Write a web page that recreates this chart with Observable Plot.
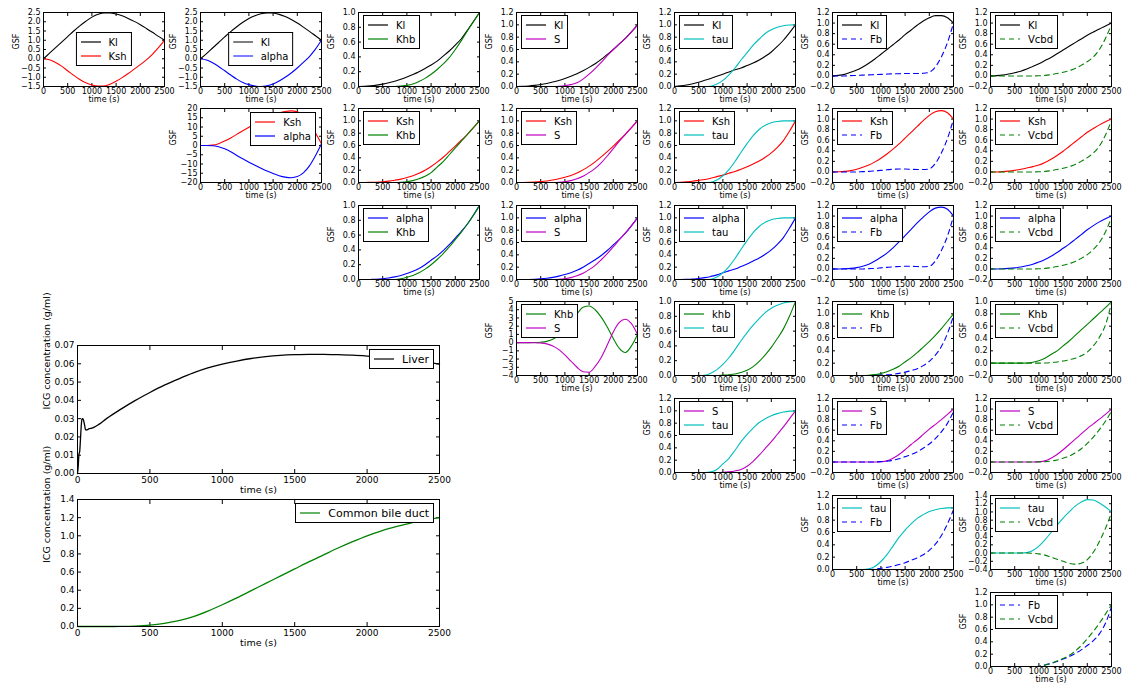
<!DOCTYPE html>
<html><head><meta charset="utf-8">
<script src="https://cdn.jsdelivr.net/npm/d3@7"></script>
<script src="https://cdn.jsdelivr.net/npm/@observablehq/plot@0.6"></script>
<style>
html,body{margin:0;padding:0;background:#fff;}
#root{position:relative;width:1123px;height:686px;overflow:hidden;font-family:"DejaVu Sans",sans-serif;background:#fff;}
.leg{position:absolute;background:#fff;border:1px solid #000;padding:2px 4px 2px 4px;color:#000;white-space:nowrap;font-family:"DejaVu Sans",sans-serif;}
.leg .r{display:flex;align-items:center;height:14px;}
.leg .r svg{margin-right:8px;flex:none;}
</style></head><body><div id="root"></div>
<script>
// ---------------- data ----------------
const T = [0,125,250,375,500,625,750,875,1000,1125,1250,1375,1500,1625,1750,1875,2000,2125,2250,2375,2500];
const X_TICKS = [0,500,1000,1500,2000,2500];

// row 0 (Kl)
const g_Kl_Ksh__Kl = [0,0.3,0.6,0.9,1.2,1.5,1.78,2.03,2.25,2.4,2.48,2.48,2.42,2.32,2.18,2.02,1.84,1.64,1.43,1.21,1.0];
const g_Kl_Ksh__Ksh = [0,-0.05,-0.2,-0.4,-0.65,-0.9,-1.12,-1.3,-1.42,-1.48,-1.47,-1.38,-1.22,-1.02,-0.8,-0.56,-0.32,-0.06,0.24,0.6,1.0];
const g_Kl_alpha__Kl = [0,0.28,0.58,0.88,1.18,1.47,1.73,1.97,2.17,2.32,2.43,2.48,2.47,2.4,2.28,2.12,1.93,1.71,1.48,1.24,1.0];
const g_Kl_alpha__alpha = [0,-0.07,-0.22,-0.42,-0.65,-0.88,-1.1,-1.28,-1.4,-1.47,-1.5,-1.46,-1.36,-1.2,-1.0,-0.77,-0.5,-0.2,0.12,0.52,1.0];
const g_Kl_Khb__Kl = [0,0.002,0.008,0.018,0.032,0.05,0.072,0.098,0.128,0.162,0.2,0.243,0.29,0.343,0.41,0.48,0.56,0.645,0.76,0.878,1.0];
const g_Kl_Khb__Khb = [0,0,0,0,0,0,0,0.005,0.015,0.035,0.068,0.11,0.165,0.23,0.305,0.39,0.5,0.62,0.75,0.875,1.0];
const g_Kl_S__Kl = [0,0.002,0.008,0.018,0.032,0.05,0.072,0.098,0.13,0.165,0.205,0.255,0.31,0.37,0.44,0.52,0.6,0.69,0.78,0.885,1.0];
const g_Kl_S__S = [0,0,0,0,0,0,0,0.003,0.012,0.03,0.06,0.12,0.2,0.29,0.39,0.5,0.6,0.69,0.78,0.885,1.0];
const g_Kl_tau__Kl = [0,0.01,0.025,0.045,0.07,0.1,0.13,0.165,0.2,0.235,0.27,0.3,0.34,0.38,0.43,0.49,0.56,0.65,0.75,0.87,1.0];
const g_Kl_tau__tau = [0,0,0,0,0,0,0.005,0.04,0.1,0.19,0.3,0.43,0.55,0.67,0.77,0.86,0.92,0.96,0.985,0.997,1.0];
const g_Kl_Fb__Kl = [0,0.01,0.03,0.07,0.11,0.17,0.24,0.32,0.41,0.5,0.59,0.68,0.78,0.87,0.96,1.04,1.1,1.14,1.14,1.1,1.0];
const g_Kl_Fb__Fb = [0,0,0,0.005,0.01,0.015,0.02,0.025,0.03,0.035,0.04,0.042,0.045,0.045,0.045,0.05,0.07,0.17,0.36,0.63,1.0];
const g_Kl_Vcbd__Kl = [0,0.005,0.015,0.035,0.06,0.09,0.13,0.18,0.23,0.29,0.35,0.42,0.49,0.56,0.63,0.7,0.77,0.83,0.89,0.945,1.0];
const g_Kl_Vcbd__Vcbd = [0,0,0,0,0,0,0,0,0.003,0.01,0.025,0.045,0.07,0.1,0.14,0.2,0.27,0.36,0.5,0.71,0.97];
// row 1 (Ksh)
const g_Ksh_alpha__Ksh = [0,0,0.2,1.0,2.4,4.1,6.0,8.0,9.9,11.7,13.4,15.0,16.4,17.6,18.4,18.7,18.2,16.4,12.6,6.8,1.0];
const g_Ksh_alpha__alpha = [0,0,-0.1,-0.7,-1.8,-3.4,-5.4,-7.2,-9.0,-10.7,-12.3,-13.8,-15.1,-16.3,-17.1,-17.4,-16.8,-14.8,-11.0,-5.5,1.0];
const g_Ksh_Khb__Ksh = [0,0,0.002,0.005,0.012,0.022,0.037,0.055,0.08,0.11,0.15,0.2,0.26,0.33,0.41,0.5,0.59,0.685,0.78,0.89,1.0];
const g_Ksh_Khb__Khb = [0,0,0,0,0,0,0,0.003,0.012,0.03,0.06,0.1,0.16,0.25,0.34,0.45,0.56,0.67,0.78,0.89,1.0];
const g_Ksh_S__Ksh = [0,0,0.002,0.006,0.014,0.025,0.04,0.06,0.085,0.115,0.155,0.205,0.265,0.335,0.415,0.5,0.59,0.685,0.785,0.89,1.0];
const g_Ksh_S__S = [0,0,0,0,0,0,0,0.003,0.012,0.03,0.06,0.1,0.16,0.23,0.32,0.43,0.55,0.67,0.78,0.89,1.0];
const g_Ksh_tau__Ksh = [0,0.003,0.01,0.02,0.035,0.05,0.07,0.095,0.12,0.15,0.18,0.215,0.255,0.3,0.35,0.41,0.48,0.57,0.68,0.83,1.0];
const g_Ksh_tau__tau = [0,0,0,0,0,0,0.005,0.04,0.11,0.21,0.34,0.49,0.63,0.76,0.86,0.93,0.97,0.99,1.0,1.0,1.0];
const g_Ksh_Fb__Ksh = [0,0.003,0.01,0.025,0.05,0.09,0.13,0.19,0.26,0.34,0.43,0.53,0.64,0.75,0.86,0.97,1.07,1.14,1.16,1.12,1.0];
const g_Ksh_Fb__Fb = [0,0,0,0,0,0.005,0.01,0.02,0.03,0.04,0.05,0.055,0.055,0.05,0.045,0.045,0.06,0.16,0.36,0.63,1.0];
const g_Ksh_Vcbd__Ksh = [0,0,0.005,0.015,0.03,0.05,0.075,0.1,0.13,0.18,0.24,0.31,0.39,0.48,0.57,0.66,0.75,0.82,0.89,0.95,1.0];
const g_Ksh_Vcbd__Vcbd = [0,0,0,0,0,0,0,0,0.003,0.01,0.025,0.045,0.07,0.1,0.14,0.2,0.27,0.36,0.49,0.7,0.97];
// row 2 (alpha)
const g_alpha_Khb__alpha = [0,0,0.001,0.003,0.01,0.02,0.035,0.055,0.08,0.11,0.15,0.2,0.26,0.32,0.39,0.47,0.56,0.65,0.75,0.87,1.0];
const g_alpha_Khb__Khb = [0,0,0,0,0,0,0,0.01,0.03,0.055,0.09,0.14,0.2,0.27,0.35,0.44,0.54,0.64,0.75,0.87,1.0];
const g_alpha_S__alpha = [0,0,0.001,0.004,0.01,0.02,0.035,0.055,0.08,0.11,0.15,0.2,0.26,0.32,0.39,0.47,0.56,0.65,0.75,0.87,1.0];
const g_alpha_S__S = [0,0,0,0,0,0,0,0.003,0.012,0.03,0.06,0.1,0.16,0.23,0.32,0.42,0.53,0.645,0.755,0.875,1.0];
const g_alpha_tau__alpha = [0,0,0.003,0.008,0.015,0.03,0.05,0.075,0.11,0.14,0.17,0.21,0.25,0.3,0.35,0.41,0.48,0.57,0.68,0.83,1.0];
const g_alpha_tau__tau = [0,0,0,0,0,0,0.005,0.04,0.11,0.21,0.34,0.49,0.63,0.76,0.86,0.93,0.97,0.99,1.0,1.0,1.0];
const g_alpha_Fb__alpha = [0,0,0.003,0.01,0.025,0.05,0.09,0.15,0.22,0.3,0.4,0.51,0.63,0.75,0.87,0.98,1.08,1.15,1.17,1.13,1.0];
const g_alpha_Fb__Fb = [0,0,0,0,0,0,0.005,0.01,0.02,0.03,0.04,0.045,0.05,0.05,0.045,0.04,0.05,0.15,0.35,0.62,1.0];
const g_alpha_Vcbd__alpha = [0,0,0.003,0.01,0.02,0.035,0.06,0.09,0.13,0.18,0.24,0.31,0.39,0.47,0.56,0.65,0.74,0.82,0.89,0.95,1.0];
const g_alpha_Vcbd__Vcbd = [0,0,0,0,0,0,0,0,0.003,0.01,0.025,0.045,0.07,0.1,0.14,0.2,0.27,0.37,0.5,0.7,0.97];
// row 3 (Khb)
const g_Khb_S__Khb = [0,0,0,0.01,0.05,0.15,0.4,0.9,1.7,2.6,3.5,4.3,4.45,4.0,3.1,1.9,0.5,-0.7,-1.2,-0.4,1.0];
const g_Khb_S__S = [0,0,0,-0.01,-0.05,-0.15,-0.4,-0.85,-1.5,-2.25,-3.0,-3.55,-3.6,-2.9,-1.8,-0.3,1.3,2.45,2.85,2.3,1.0];
const g_Khb_tau__Khb = [0,0,0,0,0,0,0,0,0.005,0.01,0.02,0.04,0.07,0.12,0.19,0.28,0.38,0.5,0.63,0.8,1.0];
const g_Khb_tau__tau = [0,0,0,0,0,0.003,0.03,0.08,0.15,0.24,0.35,0.47,0.58,0.68,0.77,0.85,0.91,0.95,0.98,0.995,1.0];
const g_Khb_Fb__Khb = [0,0,0,0,0,0,0.005,0.015,0.03,0.06,0.1,0.15,0.22,0.29,0.37,0.46,0.55,0.65,0.76,0.88,1.0];
const g_Khb_Fb__Fb = [0,0,0,0,0,0,0,0,0.005,0.01,0.02,0.035,0.055,0.08,0.11,0.16,0.23,0.33,0.47,0.68,0.97];
const g_Khb_Vcbd__Khb = [0,0,0,0,0,0,0.003,0.015,0.04,0.08,0.14,0.2,0.28,0.36,0.45,0.54,0.63,0.72,0.81,0.9,1.0];
const g_Khb_Vcbd__Vcbd = [0,0,0,0,0,0,0,0,0,0.003,0.01,0.02,0.035,0.055,0.08,0.12,0.18,0.28,0.42,0.62,0.98];
// row 4 (S)
const g_S_tau__S = [0,0,0,0,0,0,0,0,0.003,0.01,0.025,0.05,0.1,0.18,0.28,0.39,0.5,0.62,0.74,0.87,1.0];
const g_S_tau__tau = [0,0,0,0,0,0,0.01,0.05,0.14,0.23,0.36,0.5,0.62,0.72,0.81,0.87,0.92,0.955,0.98,0.995,1.0];
const g_S_Fb__S = [0,0,0,0,0,0,0,0,0.005,0.02,0.07,0.14,0.23,0.33,0.42,0.52,0.62,0.71,0.8,0.9,1.0];
const g_S_Fb__Fb = [0,0,0,0,0,0,0,0,0.005,0.015,0.03,0.06,0.1,0.14,0.19,0.26,0.34,0.44,0.57,0.73,0.95];
const g_S_Vcbd__S = [0,0,0,0,0,0,0,0,0.005,0.02,0.07,0.14,0.23,0.33,0.43,0.53,0.63,0.72,0.81,0.9,1.0];
const g_S_Vcbd__Vcbd = [0,0,0,0,0,0,0,0,0,0.005,0.015,0.035,0.07,0.11,0.17,0.25,0.35,0.47,0.61,0.77,0.96];
// row 5 (tau)
const g_tau_Fb__tau = [0,0,0,0,0,0,0.01,0.05,0.13,0.24,0.38,0.52,0.64,0.74,0.83,0.89,0.94,0.97,0.99,1.0,1.0];
const g_tau_Fb__Fb = [0,0,0,0,0,0,0,0.005,0.02,0.035,0.055,0.08,0.11,0.15,0.19,0.24,0.31,0.41,0.55,0.74,0.97];
const g_tau_Vcbd__tau = [0,0,0,0,0,0,0.01,0.06,0.17,0.32,0.5,0.68,0.85,1.0,1.14,1.24,1.3,1.29,1.22,1.12,1.0];
const g_tau_Vcbd__Vcbd = [0,0,0,0,0,0,0,-0.005,-0.02,-0.05,-0.1,-0.15,-0.2,-0.25,-0.27,-0.25,-0.16,0.02,0.28,0.6,0.98];
// row 6 (Fb)
const g_Fb_Vcbd__Fb = [0,0,0,0,0,0,0,0,0.005,0.025,0.05,0.08,0.12,0.16,0.21,0.27,0.34,0.42,0.53,0.7,0.97];
const g_Fb_Vcbd__Vcbd = [0,0,0,0,0,0,0,0,0.005,0.025,0.05,0.09,0.13,0.18,0.25,0.34,0.45,0.57,0.7,0.85,1.0];

// ICG concentration curves
const liverT = [0,5,10,15,20,25,30,35,40,45,50,55,60,70,80,100,150,200,300,400,500,600,700,800,900,1000,1100,1200,1300,1400,1500,1600,1700,1800,1900,2000,2100,2200,2300,2400,2500];
const liverC = [0,0.004,0.0105,0.012,0.018,0.025,0.0295,0.030,0.0295,0.028,0.026,0.024,0.0238,0.024,0.0245,0.0248,0.027,0.030,0.0352,0.040,0.0443,0.0483,0.0518,0.055,0.0577,0.0598,0.0615,0.0629,0.0639,0.0646,0.065,0.0652,0.0652,0.065,0.0647,0.0642,0.0636,0.0628,0.062,0.061,0.0598];
const bileT = [0,100,200,300,400,500,600,700,800,900,1000,1100,1200,1300,1400,1500,1600,1700,1800,1900,2000,2100,2200,2300,2400,2500];
const bileC = [0,0,0,0.001,0.005,0.015,0.035,0.065,0.11,0.17,0.24,0.315,0.395,0.475,0.555,0.635,0.715,0.79,0.865,0.935,1.0,1.055,1.1,1.14,1.175,1.2];

// y-axis tick sets
const ticksA = [-1.5,-1,-0.5,0,0.5,1,1.5,2,2.5];
const ticks10 = [0,0.2,0.4,0.6,0.8,1.0];
const ticks12 = [0,0.2,0.4,0.6,0.8,1.0,1.2];
const ticksN12 = [-0.2,0,0.2,0.4,0.6,0.8,1.0,1.2];
const ticksN10 = [-0.2,0,0.2,0.4,0.6,0.8,1.0];
const ticksN14 = [-0.4,-0.2,0,0.2,0.4,0.6,0.8,1.0,1.2,1.4];
const ticks20 = [-20,-15,-10,-5,0,5,10,15,20];
const ticks45 = [-4,-3,-2,-1,0,1,2,3,4,5];
const ticksLiver = [0,0.01,0.02,0.03,0.04,0.05,0.06,0.07];
const ticksBile = [0,0.2,0.4,0.6,0.8,1.0,1.2,1.4];

const YC = {
  A:   {domain:[-1.5,2.5], ticks:ticksA, fmt:d3.format(".1f")},
  U10: {domain:[0,1.0], ticks:ticks10, fmt:d3.format(".1f")},
  U12: {domain:[0,1.2], ticks:ticks12, fmt:d3.format(".1f")},
  N12: {domain:[-0.2,1.2], ticks:ticksN12, fmt:d3.format(".1f")},
  N10: {domain:[-0.2,1.0], ticks:ticksN10, fmt:d3.format(".1f")},
  N14: {domain:[-0.4,1.4], ticks:ticksN14, fmt:d3.format(".1f")},
  B20: {domain:[-20,20], ticks:ticks20, fmt:d3.format("d")},
  C5:  {domain:[-4,5], ticks:ticks45, fmt:d3.format("d")}
};

const COL = {Kl:"#000000", Ksh:"#ff0000", alpha:"#0000ff", Khb:"#008000", S:"#bf00bf", tau:"#00bfbf", Fb:"#0000ff", Vcbd:"#008000"};
const DASH = {Fb:"5,4", Vcbd:"5,4"};

// [row, col, seriesA, seriesB, valuesA, valuesB, yConfig, legendPos, labelA]
const panels = [
  [0,0,"Kl","Ksh",g_Kl_Ksh__Kl,g_Kl_Ksh__Ksh,"A","c"],
  [0,1,"Kl","alpha",g_Kl_alpha__Kl,g_Kl_alpha__alpha,"A","c"],
  [0,2,"Kl","Khb",g_Kl_Khb__Kl,g_Kl_Khb__Khb,"U10","ul"],
  [0,3,"Kl","S",g_Kl_S__Kl,g_Kl_S__S,"U12","ul"],
  [0,4,"Kl","tau",g_Kl_tau__Kl,g_Kl_tau__tau,"U12","ul"],
  [0,5,"Kl","Fb",g_Kl_Fb__Kl,g_Kl_Fb__Fb,"N12","ul"],
  [0,6,"Kl","Vcbd",g_Kl_Vcbd__Kl,g_Kl_Vcbd__Vcbd,"N12","ul"],
  [1,1,"Ksh","alpha",g_Ksh_alpha__Ksh,g_Ksh_alpha__alpha,"B20","ur"],
  [1,2,"Ksh","Khb",g_Ksh_Khb__Ksh,g_Ksh_Khb__Khb,"U12","ul"],
  [1,3,"Ksh","S",g_Ksh_S__Ksh,g_Ksh_S__S,"U12","ul"],
  [1,4,"Ksh","tau",g_Ksh_tau__Ksh,g_Ksh_tau__tau,"U12","ul"],
  [1,5,"Ksh","Fb",g_Ksh_Fb__Ksh,g_Ksh_Fb__Fb,"N12","ul"],
  [1,6,"Ksh","Vcbd",g_Ksh_Vcbd__Ksh,g_Ksh_Vcbd__Vcbd,"N12","ul"],
  [2,2,"alpha","Khb",g_alpha_Khb__alpha,g_alpha_Khb__Khb,"U10","ul"],
  [2,3,"alpha","S",g_alpha_S__alpha,g_alpha_S__S,"U12","ul"],
  [2,4,"alpha","tau",g_alpha_tau__alpha,g_alpha_tau__tau,"U12","ul"],
  [2,5,"alpha","Fb",g_alpha_Fb__alpha,g_alpha_Fb__Fb,"N12","ul"],
  [2,6,"alpha","Vcbd",g_alpha_Vcbd__alpha,g_alpha_Vcbd__Vcbd,"N12","ul"],
  [3,3,"Khb","S",g_Khb_S__Khb,g_Khb_S__S,"C5","ul"],
  [3,4,"Khb","tau",g_Khb_tau__Khb,g_Khb_tau__tau,"U10","ul","khb"],
  [3,5,"Khb","Fb",g_Khb_Fb__Khb,g_Khb_Fb__Fb,"U12","ul"],
  [3,6,"Khb","Vcbd",g_Khb_Vcbd__Khb,g_Khb_Vcbd__Vcbd,"N10","ul"],
  [4,4,"S","tau",g_S_tau__S,g_S_tau__tau,"U12","ul"],
  [4,5,"S","Fb",g_S_Fb__S,g_S_Fb__Fb,"N12","ul"],
  [4,6,"S","Vcbd",g_S_Vcbd__S,g_S_Vcbd__Vcbd,"N12","ul"],
  [5,5,"tau","Fb",g_tau_Fb__tau,g_tau_Fb__Fb,"U12","ul"],
  [5,6,"tau","Vcbd",g_tau_Vcbd__tau,g_tau_Vcbd__Vcbd,"N14","ul"],
  [6,6,"Fb","Vcbd",g_Fb_Vcbd__Fb,g_Fb_Vcbd__Vcbd,"U12","ul"]
];

// ---------------- layout ----------------
const colL = [43,200,358,516,674,832,990];
const rowT = [12,108,205,301,398,495,592];
const FW = 121, FH = 74;
const ML = 36, MR = 4, MT = 6, MB = 24;
const root = document.getElementById("root");

function place(el, left, top) {
  el.style.position = "absolute";
  el.style.left = left + "px";
  el.style.top = top + "px";
  root.appendChild(el);
}

function axes(xt, yt, yfmt, tsz, padX, padY) {
  const blank = () => "";
  return [
    Plot.axisX(xt, {anchor:"bottom", tickSize:0, tickPadding:padX, tickFormat:d3.format("d"), label:null}),
    Plot.axisY(yt, {anchor:"left", tickSize:0, tickPadding:padY, tickFormat:yfmt, label:null}),
    Plot.axisX(xt, {anchor:"bottom", tickSize:tsz, dy:-tsz, tickFormat:blank, label:null}),
    Plot.axisX(xt, {anchor:"top", tickSize:tsz, dy:tsz, tickFormat:blank, label:null}),
    Plot.axisY(yt, {anchor:"left", tickSize:tsz, dx:tsz, tickFormat:blank, label:null}),
    Plot.axisY(yt, {anchor:"right", tickSize:tsz, dx:-tsz, tickFormat:blank, label:null})
  ];
}

function line(vals, key, tt, w) {
  const o = {x:(d,i) => tt[i], y:d => d, stroke:COL[key], strokeWidth:w, curve:"monotone-x"};
  if (DASH[key]) o.strokeDasharray = DASH[key];
  return Plot.line(vals, o);
}

function legend(entries, fs, pos, fx, fy, fw, fh) {
  const d = document.createElement("div");
  d.className = "leg";
  d.style.fontSize = fs + "px";
  for (const [key, label] of entries) {
    const row = document.createElement("div");
    row.className = "r";
    row.innerHTML = `<svg width="20" height="8"><line x1="0" x2="20" y1="4" y2="4" stroke="${COL[key]}" stroke-width="1.2"${DASH[key] ? ` stroke-dasharray="${DASH[key]}"` : ""}/></svg><span>${label}</span>`;
    d.appendChild(row);
  }
  root.appendChild(d);
  if (pos === "ul") { d.style.left = (fx + 5) + "px"; d.style.top = (fy + 3) + "px"; }
  else if (pos === "ur") { d.style.right = (1123 - (fx + fw - 5)) + "px"; d.style.top = (fy + 4) + "px"; }
  else { d.style.left = (fx + fw / 2) + "px"; d.style.top = (fy + fh / 2) + "px"; d.style.transform = "translate(-50%,-50%)"; }
}

for (const [r, c, a, b, va, vb, yk, lp, labA] of panels) {
  const cfg = YC[yk];
  const svg = Plot.plot({
    width: ML + FW + MR, height: MT + FH + MB,
    marginLeft: ML, marginRight: MR, marginTop: MT, marginBottom: MB,
    style: {background:"transparent", overflow:"visible", fontFamily:"DejaVu Sans", fontSize:"8px", color:"#000"},
    x: {domain:[0,2500]},
    y: {domain: cfg.domain},
    marks: [
      ...axes(X_TICKS, cfg.ticks, cfg.fmt, 3, 2, 3),
      line(va, a, T, 1.1),
      line(vb, b, T, 1.1),
      Plot.frame({stroke:"#000"}),
      Plot.text(["time (s)"], {frameAnchor:"bottom", dy:15, text:d => d}),
      Plot.text(["GSF"], {frameAnchor:"left", dx:-27, rotate:-90, text:d => d})
    ]
  });
  place(svg, colL[c] - ML, rowT[r] - MT);
  legend([[a, labA || a], [b, b]], 10, lp, colL[c], rowT[r], FW, FH);
}

// big plots
const BL = 77, BFW = 362, BML = 50, BMR = 10, BMT = 6, BMB = 30;
function bigPlot(tt, vals, key, domain, ticks, fmt, top, fh, legLabel) {
  const svg = Plot.plot({
    width: BML + BFW + BMR, height: BMT + fh + BMB,
    marginLeft: BML, marginRight: BMR, marginTop: BMT, marginBottom: BMB,
    style: {background:"transparent", overflow:"visible", fontFamily:"DejaVu Sans", fontSize:"9px", color:"#000"},
    x: {domain:[0,2500]},
    y: {domain},
    marks: [
      ...axes(X_TICKS, ticks, fmt, 4, 3, 3),
      line(vals, key, tt, 1.3),
      Plot.frame({stroke:"#000"}),
      Plot.text(["time (s)"], {frameAnchor:"bottom", dy:19, fontSize:9.5, text:d => d}),
      Plot.text(["ICG concentration (g/ml)"], {frameAnchor:"left", dx:-31, rotate:-90, fontSize:9.5, text:d => d})
    ]
  });
  place(svg, BL - BML, top - BMT);
  legend([[key, legLabel]], 11, "ur", BL, top, BFW, fh);
}
COL.Liver = "#000000"; COL.Bile = "#008000";
bigPlot(liverT, liverC, "Liver", [0,0.07], ticksLiver, d3.format(".2f"), 345, 128, "Liver");
bigPlot(bileT, bileC, "Bile", [0,1.4], ticksBile, d3.format(".1f"), 499, 127, "Common bile duct");
</script></body></html>
